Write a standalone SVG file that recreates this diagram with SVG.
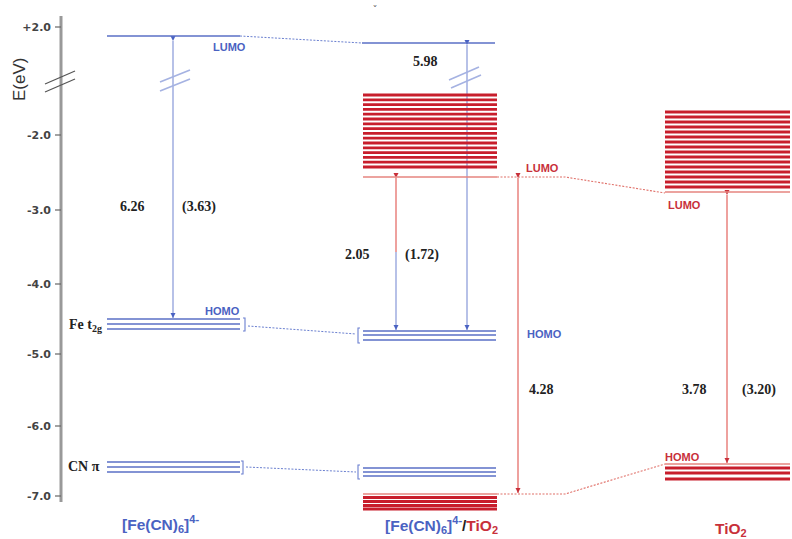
<svg xmlns="http://www.w3.org/2000/svg" width="792" height="539" viewBox="0 0 792 539">
<defs>
<style>
.ax{stroke:#999;stroke-width:3;fill:none}
.tk{stroke:#666;stroke-width:1.2}
.tl{font-family:"DejaVu Sans","Liberation Sans",sans-serif;font-size:11px;fill:#444;font-weight:bold}
.bl{stroke:#5a6fc6;stroke-width:1.4;fill:none}
.ba{stroke:#a5b2e2;stroke-width:1.6;fill:none}
.bd{stroke:#6a7fd0;stroke-width:1;stroke-dasharray:2 1.5;fill:none}
.rl{stroke:#c81e2c;stroke-width:2.8;fill:none}
.rt{stroke:#e6857f;stroke-width:1.3;fill:none}
.ra{stroke:#ea8a86;stroke-width:1.6;fill:none}
.rd{stroke:#e07069;stroke-width:1.1;stroke-dasharray:2 1.5;fill:none}
.num{font-family:"Liberation Serif","Times New Roman",serif;font-weight:bold;font-size:14px;fill:#222}
.lb{font-family:"Liberation Sans",Arial,sans-serif;font-weight:bold;font-size:11px}
.blue{fill:#4a62c2}
.red{fill:#c8303a}
.tit{font-family:"Liberation Sans",Arial,sans-serif;font-weight:bold;font-size:15.5px}
.brk{stroke:#555;stroke-width:1.2;fill:none}
.bbrk{stroke:#6a7fd0;stroke-width:1.1;fill:none}
</style>
<marker id="ahb" markerWidth="6" markerHeight="6" refX="5" refY="3" orient="auto" markerUnits="userSpaceOnUse"><path d="M0,0.5 L5,3 L0,5.5 Z" fill="#4a62c2"/></marker>
<marker id="ahr" markerWidth="6" markerHeight="6" refX="5" refY="3" orient="auto" markerUnits="userSpaceOnUse"><path d="M0,0.5 L5,3 L0,5.5 Z" fill="#c8303a"/></marker>
</defs>
<rect width="792" height="539" fill="#fff"/>

<g id="axis">
<line class="ax" x1="61" y1="16" x2="61" y2="502"/>
<line class="tk" x1="55" y1="27" x2="61" y2="27"/>
<line class="tk" x1="55" y1="135" x2="61" y2="135"/>
<line class="tk" x1="55" y1="210" x2="61" y2="210"/>
<line class="tk" x1="55" y1="284" x2="61" y2="284"/>
<line class="tk" x1="55" y1="354" x2="61" y2="354"/>
<line class="tk" x1="55" y1="426" x2="61" y2="426"/>
<line class="tk" x1="55" y1="496" x2="61" y2="496"/>
<text class="tl" x="51" y="31" text-anchor="end">+2.0</text>
<text class="tl" x="51" y="139" text-anchor="end">-2.0</text>
<text class="tl" x="51" y="214" text-anchor="end">-3.0</text>
<text class="tl" x="51" y="288" text-anchor="end">-4.0</text>
<text class="tl" x="51" y="358" text-anchor="end">-5.0</text>
<text class="tl" x="51" y="430" text-anchor="end">-6.0</text>
<text class="tl" x="51" y="500" text-anchor="end">-7.0</text>
<text font-family="Liberation Sans,Arial,sans-serif" font-size="17" fill="#333" transform="translate(25,101) rotate(-90)">E(eV)</text>
<line class="brk" x1="45" y1="84" x2="75" y2="71"/>
<line class="brk" x1="45" y1="92" x2="75" y2="79"/>
<text x="375" y="14" font-family="DejaVu Sans,sans-serif" font-size="10" fill="#666" text-anchor="middle">ˇ</text>
</g>

<g id="connectors">
<line class="bd" x1="240" y1="36" x2="362" y2="43"/>
<line class="bd" x1="248" y1="326" x2="356" y2="334"/>
<line class="bd" x1="246" y1="467" x2="356" y2="472"/>
<polyline class="rd" points="497,177 565,177 665,193"/>
<polyline class="rd" points="497,494 565,494 665,464"/>
<line class="ba" x1="173" y1="41" x2="173" y2="318" marker-start="url(#ahb)" marker-end="url(#ahb)"/>
<line class="ba" x1="160" y1="82" x2="190" y2="70"/>
<line class="ba" x1="160" y1="91" x2="190" y2="79"/>
<line class="ra" x1="396" y1="178" x2="396" y2="252" marker-start="url(#ahr)"/>
<line class="ba" x1="396" y1="252" x2="396" y2="330" marker-end="url(#ahb)"/>
<line class="ba" x1="467" y1="45" x2="467" y2="330" marker-start="url(#ahb)" marker-end="url(#ahb)"/>
<line class="ba" x1="449" y1="80" x2="479" y2="67"/>
<line class="ba" x1="451" y1="88" x2="481" y2="75"/>
<line class="ra" x1="518" y1="178" x2="518" y2="493" marker-start="url(#ahr)" marker-end="url(#ahr)"/>
<line class="ra" x1="727" y1="195" x2="727" y2="463" marker-start="url(#ahr)" marker-end="url(#ahr)"/>
</g>

<g id="fecn6">
<line class="bl" x1="107" y1="36" x2="240" y2="36"/>
<text class="lb blue" x="213" y="51">LUMO</text>
<line class="bl" x1="107" y1="319" x2="240" y2="319"/>
<line class="bl" x1="107" y1="324" x2="240" y2="324"/>
<line class="bl" x1="107" y1="329" x2="240" y2="329"/>
<path class="bbrk" d="M243,318 L245,318 L245,331 L243,331"/>
<text class="lb blue" x="205" y="315">HOMO</text>
<text class="num" x="69" y="329">Fe t<tspan font-size="10" dy="3">2g</tspan></text>
<line class="bl" x1="107" y1="462" x2="240" y2="462"/>
<line class="bl" x1="107" y1="467" x2="240" y2="467"/>
<line class="bl" x1="107" y1="472" x2="240" y2="472"/>
<path class="bbrk" d="M241,461 L243,461 L243,474 L241,474"/>
<text class="num" x="68" y="471">CN π</text>
<text class="num" x="120" y="211">6.26</text>
<text class="num" x="182" y="211">(3.63)</text>
<text class="tit blue" x="122" y="530">[Fe(CN)<tspan font-size="11" dy="3">6</tspan><tspan dy="-3">]</tspan><tspan font-size="11" dy="-7">4-</tspan></text>
</g>

<g id="fecn6-tio2">
<line class="bl" x1="362" y1="43" x2="495" y2="43"/>
<text class="num" x="413" y="66">5.98</text>
<line class="rl" x1="363" y1="95" x2="497" y2="95"/>
<line class="rl" x1="363" y1="99.8" x2="497" y2="99.8"/>
<line class="rl" x1="363" y1="104.6" x2="497" y2="104.6"/>
<line class="rl" x1="363" y1="109.4" x2="497" y2="109.4"/>
<line class="rl" x1="363" y1="114.2" x2="497" y2="114.2"/>
<line class="rl" x1="363" y1="119" x2="497" y2="119"/>
<line class="rl" x1="363" y1="123.8" x2="497" y2="123.8"/>
<line class="rl" x1="363" y1="128.6" x2="497" y2="128.6"/>
<line class="rl" x1="363" y1="133.4" x2="497" y2="133.4"/>
<line class="rl" x1="363" y1="138.2" x2="497" y2="138.2"/>
<line class="rl" x1="363" y1="143" x2="497" y2="143"/>
<line class="rl" x1="363" y1="147.8" x2="497" y2="147.8"/>
<line class="rl" x1="363" y1="152.6" x2="497" y2="152.6"/>
<line class="rl" x1="363" y1="157.4" x2="497" y2="157.4"/>
<line class="rl" x1="363" y1="162.2" x2="497" y2="162.2"/>
<line class="rl" x1="363" y1="167" x2="497" y2="167"/>
<line class="rt" x1="363" y1="177" x2="497" y2="177"/>
<text class="lb red" x="526" y="172">LUMO</text>
<text class="num" x="345" y="259">2.05</text>
<text class="num" x="405" y="259">(1.72)</text>
<line class="bl" x1="363" y1="331" x2="496" y2="331"/>
<line class="bl" x1="363" y1="335" x2="496" y2="335"/>
<line class="bl" x1="363" y1="340" x2="496" y2="340"/>
<path class="bbrk" d="M360,328 L358,328 L358,343 L360,343"/>
<text class="lb blue" x="527" y="338">HOMO</text>
<text class="num" x="529" y="394">4.28</text>
<line class="bl" x1="363" y1="468" x2="496" y2="468"/>
<line class="bl" x1="363" y1="472" x2="496" y2="472"/>
<line class="bl" x1="363" y1="476" x2="496" y2="476"/>
<path class="bbrk" d="M360,465 L358,465 L358,479 L360,479"/>
<line class="rt" x1="363" y1="494" x2="497" y2="494"/>
<line class="rl" x1="363" y1="497.5" x2="497" y2="497.5"/>
<line class="rl" x1="363" y1="501.5" x2="497" y2="501.5"/>
<line class="rl" x1="363" y1="505.5" x2="497" y2="505.5"/>
<line class="rl" x1="363" y1="509" x2="497" y2="509"/>
<text class="tit" x="385" y="531"><tspan class="blue">[Fe(CN)</tspan><tspan class="blue" font-size="11" dy="3">6</tspan><tspan class="blue" dy="-3">]</tspan><tspan class="blue" font-size="11" dy="-7">4-</tspan><tspan fill="#222" dy="7">/</tspan><tspan class="red">TiO</tspan><tspan class="red" font-size="11" dy="3">2</tspan></text>
</g>

<g id="tio2">
<line class="rl" x1="665" y1="112" x2="790" y2="112"/>
<line class="rl" x1="665" y1="117" x2="790" y2="117"/>
<line class="rl" x1="665" y1="122" x2="790" y2="122"/>
<line class="rl" x1="665" y1="127" x2="790" y2="127"/>
<line class="rl" x1="665" y1="132" x2="790" y2="132"/>
<line class="rl" x1="665" y1="137" x2="790" y2="137"/>
<line class="rl" x1="665" y1="142" x2="790" y2="142"/>
<line class="rl" x1="665" y1="147" x2="790" y2="147"/>
<line class="rl" x1="665" y1="152" x2="790" y2="152"/>
<line class="rl" x1="665" y1="157" x2="790" y2="157"/>
<line class="rl" x1="665" y1="162" x2="790" y2="162"/>
<line class="rl" x1="665" y1="167" x2="790" y2="167"/>
<line class="rl" x1="665" y1="172" x2="790" y2="172"/>
<line class="rl" x1="665" y1="177" x2="790" y2="177"/>
<line class="rl" x1="665" y1="182" x2="790" y2="182"/>
<line class="rl" x1="665" y1="187" x2="790" y2="187"/>
<line class="rt" x1="665" y1="192" x2="790" y2="192"/>
<text class="lb red" x="668" y="209">LUMO</text>
<text class="num" x="682" y="394">3.78</text>
<text class="num" x="742" y="394">(3.20)</text>
<text class="lb red" x="665" y="461">HOMO</text>
<line class="rt" x1="665" y1="464" x2="790" y2="464"/>
<line class="rl" x1="665" y1="468" x2="790" y2="468"/>
<line class="rl" x1="665" y1="473" x2="790" y2="473"/>
<line class="rl" x1="665" y1="479" x2="790" y2="479"/>
<text class="tit red" x="715" y="534">TiO<tspan font-size="11" dy="3">2</tspan></text>
</g>
</svg>
